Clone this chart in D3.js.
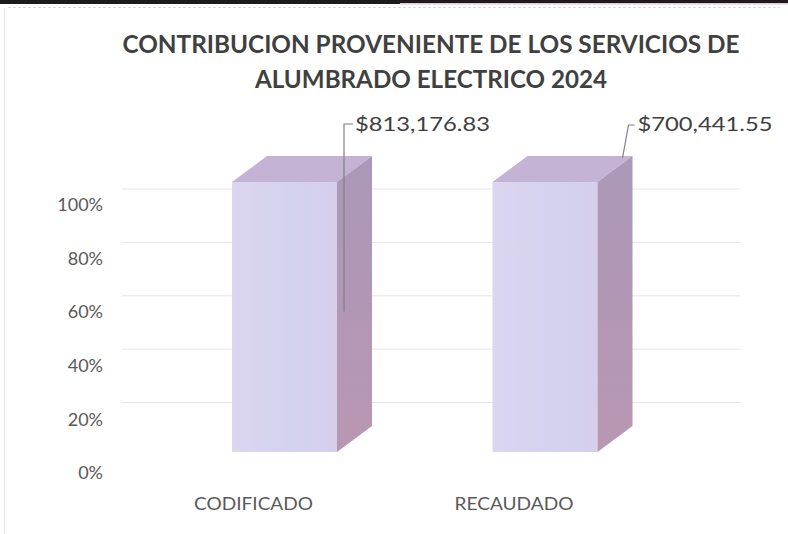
<!DOCTYPE html>
<html>
<head>
<meta charset="utf-8">
<script src="https://cdn.jsdelivr.net/npm/d3@7"></script>
<style>
  html, body { margin: 0; padding: 0; background: #fff; }
  svg { display: block; }
</style>
</head>
<body>
<svg id="chart" width="788" height="534"></svg>
<script>
// ---- data ----
const titleLines = ["CONTRIBUCION PROVENIENTE DE LOS SERVICIOS DE", "ALUMBRADO ELECTRICO 2024"];
const categories = ["CODIFICADO", "RECAUDADO"];
const amounts = [813176.83, 700441.55];
const shares = [1, 1];            // 100% stacked: each bar is 100%
const yTicks = [0, 0.2, 0.4, 0.6, 0.8, 1.0];

// ---- setup ----
const svg = d3.select("#chart");
const W = 788, H = 534;
const font = "Lato, 'Open Sans', sans-serif";

// frame / scan artifacts
svg.append("rect").attr("x", 0).attr("y", 0).attr("width", W).attr("height", H).attr("fill", "#fff");
svg.append("rect").attr("x", 0).attr("y", 0).attr("width", W).attr("height", 4).attr("fill", "#1c1c1c");
svg.append("rect").attr("x", 400).attr("y", 3).attr("width", 388).attr("height", 1.5).attr("fill", "#e2c6de");
svg.append("line").attr("x1", 8).attr("x2", 780).attr("y1", 7.5).attr("y2", 7.5)
  .attr("stroke", "#dcdcdc").attr("stroke-dasharray", "3,2");
svg.append("line").attr("x1", 4.5).attr("x2", 4.5).attr("y1", 8).attr("y2", 534)
  .attr("stroke", "#e4e4e4");

// scales
const yLabel = d3.scaleLinear().domain([0, 1]).range([473, 205]);   // tick label positions (front)
const yGrid  = d3.scaleLinear().domain([0, 1]).range([456, 189]);   // back-wall grid
const yBar   = d3.scaleLinear().domain([0, 1]).range([452, 182]);   // bar front face
const xCenter = d3.scalePoint().domain(categories).range([284.5, 545]);
const barW = 105, dX = 35, dY = -26;

// title
svg.append("g").selectAll("text").data(titleLines).join("text")
  .attr("x", 431).attr("y", (d, i) => 53 + i * 35)
  .attr("text-anchor", "middle")
  .attr("font-family", font).attr("font-weight", "bold").attr("font-size", 24)
  .attr("fill", "#404040")
  .attr("textLength", (d, i) => i === 0 ? 617 : 352)
  .attr("lengthAdjust", "spacingAndGlyphs")
  .text(d => d);

// gridlines (back wall)
svg.append("g").selectAll("line").data(yTicks.filter(t => t > 0)).join("line")
  .attr("x1", 122).attr("x2", 740)
  .attr("y1", d => yGrid(d)).attr("y2", d => yGrid(d))
  .attr("stroke", "#e6e6e6").attr("stroke-width", 1);

// y tick labels
const yAxis = d3.axisLeft(yLabel).tickValues(yTicks).tickFormat(d3.format(".0%")).tickSize(0).tickPadding(0);
const gy = svg.append("g").attr("transform", "translate(103,0)").call(yAxis);
gy.select(".domain").remove();
gy.selectAll("text").attr("font-family", font).attr("font-size", 18).attr("fill", "#595959");

// gradients
const defs = svg.append("defs");
const gFront = defs.append("linearGradient").attr("id", "gFront").attr("x1", 0).attr("x2", 1).attr("y1", 0).attr("y2", 0);
gFront.append("stop").attr("offset", "0%").attr("stop-color", "#dcd6f0");
gFront.append("stop").attr("offset", "60%").attr("stop-color", "#d3d2ef");
gFront.append("stop").attr("offset", "100%").attr("stop-color", "#d6cfec");
const gSide = defs.append("linearGradient").attr("id", "gSide").attr("x1", 0).attr("x2", 0).attr("y1", 0).attr("y2", 1);
gSide.append("stop").attr("offset", "0%").attr("stop-color", "#ab98b8");
gSide.append("stop").attr("offset", "100%").attr("stop-color", "#b997b2");

// bars (3D boxes)
const bars = svg.append("g").selectAll("g").data(categories).join("g");
bars.each(function(c, i) {
  const g = d3.select(this);
  const x0 = xCenter(c) - barW / 2, x1 = x0 + barW;
  const yt = yBar(shares[i]), yb = yBar(0);
  g.append("rect").attr("x", x0).attr("y", yt).attr("width", barW).attr("height", yb - yt)
    .attr("fill", "url(#gFront)");
  g.append("path").attr("d", `M${x0},${yt}L${x0 + dX},${yt + dY}L${x1 + dX},${yt + dY}L${x1},${yt}Z`)
    .attr("fill", "#c4b3d5");
  g.append("path").attr("d", `M${x1},${yt}L${x1 + dX},${yt + dY}L${x1 + dX},${yb + dY}L${x1},${yb}Z`)
    .attr("fill", "url(#gSide)");
});

// data labels + leader lines
const fmt = d3.format("$,.2f");
const labelDx = [70.5, 92.5];
const labels = svg.append("g").selectAll("g").data(categories).join("g");
labels.each(function(c, i) {
  const g = d3.select(this);
  const lx = xCenter(c) + labelDx[i];
  const ly = yBar(shares[i]) - 58;
  g.append("text").attr("x", lx).attr("y", ly + 7)
    .attr("font-family", font).attr("font-size", 20).attr("fill", "#404040")
    .attr("textLength", 135).attr("lengthAdjust", "spacingAndGlyphs")
    .text(fmt(amounts[i]));
  const pts = i === 0
    ? [[lx - 2, ly], [lx - 11, ly], [lx - 11, yBar(shares[i] * 0.52)]]
    : [[lx - 3, ly + 1], [lx - 9, ly + 1], [lx - 15, ly + 34]];
  g.append("path").attr("d", d3.line()(pts)).attr("fill", "none")
    .attr("stroke", "#7f7f86").attr("stroke-width", 1.2);
});

// category labels
svg.append("g").selectAll("text").data(categories).join("text")
  .attr("x", d => xCenter(d) - 31).attr("y", 510)
  .attr("text-anchor", "middle")
  .attr("font-family", font).attr("font-size", 18).attr("fill", "#595959")
  .attr("textLength", 119).attr("lengthAdjust", "spacingAndGlyphs")
  .text(d => d);
</script>
</body>
</html>
